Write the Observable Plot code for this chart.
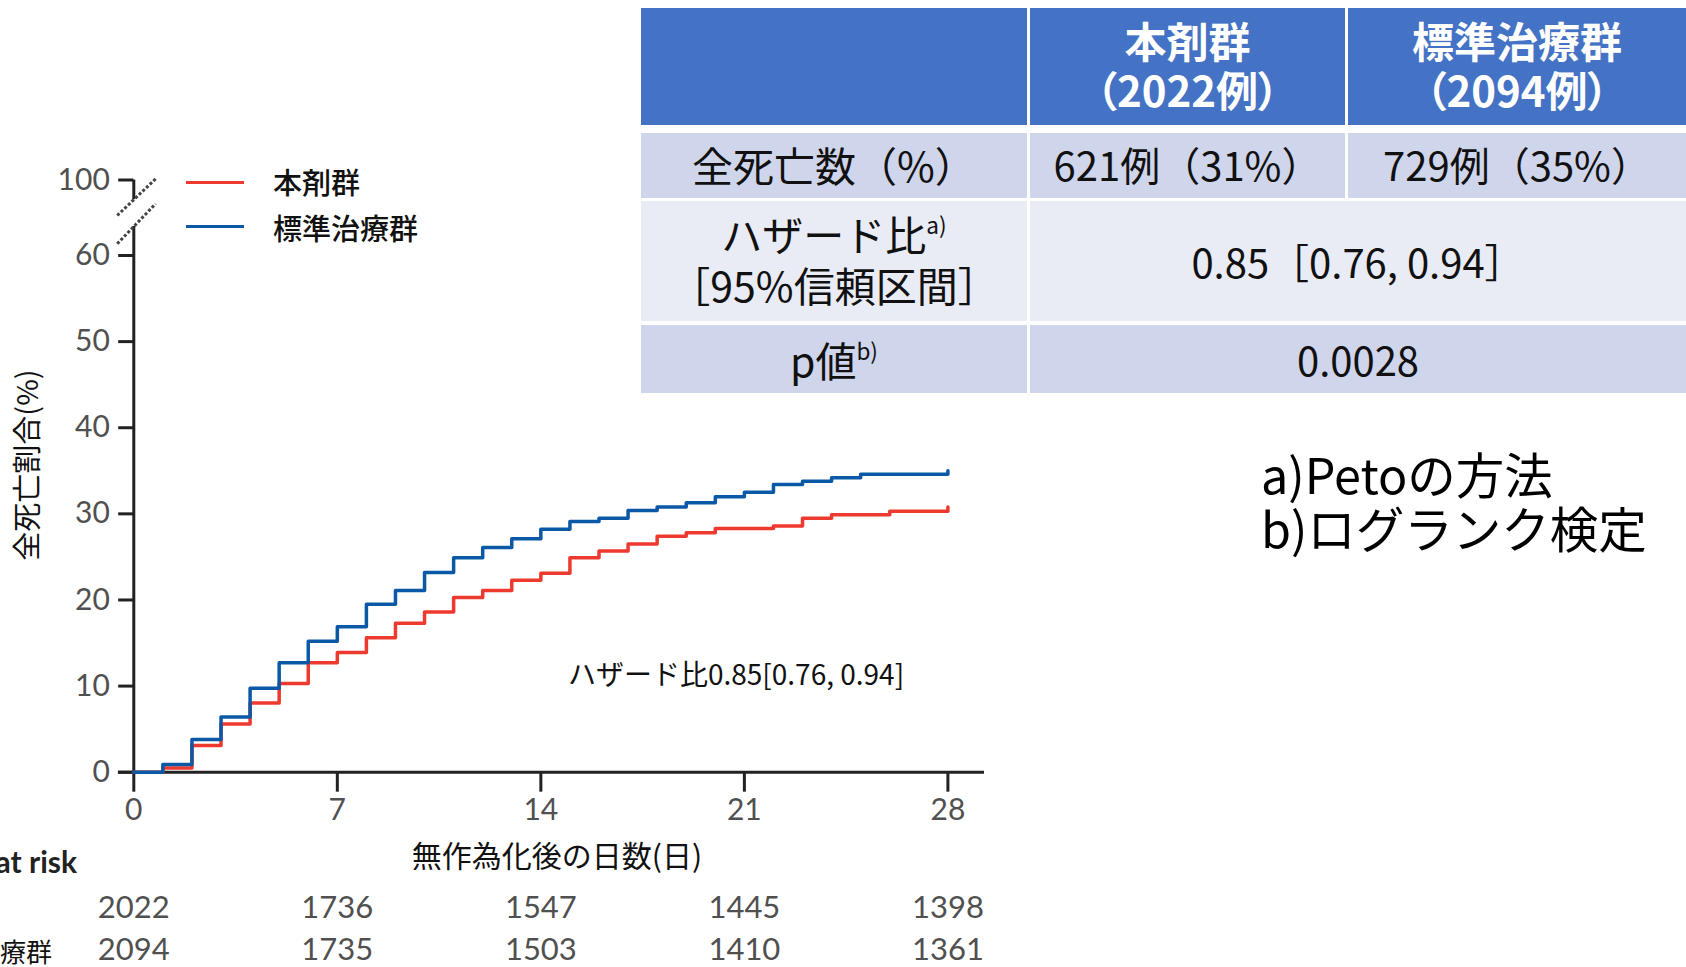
<!DOCTYPE html>
<html><head><meta charset="utf-8">
<script src="https://cdn.jsdelivr.net/npm/d3@7"></script>
<script src="https://cdn.jsdelivr.net/npm/@observablehq/plot@0.6"></script>
<style>
html,body{margin:0;padding:0;background:#fff;}
#wrap{position:relative;width:1686px;height:967px;overflow:hidden;background:#fff;font-family:"Noto Sans CJK JP",sans-serif;color:#111;}
#chart{position:absolute;left:0;top:0;width:1000px;height:967px;}
.abs{position:absolute;white-space:nowrap;}
.cell{position:absolute;display:flex;flex-direction:column;align-items:center;justify-content:center;text-align:center;white-space:nowrap;box-sizing:border-box;}
sup{font-size:0.55em;line-height:0;vertical-align:0;position:relative;top:-0.75em;}
</style></head><body>
<div id="wrap">
  <div id="chart"></div>
</div>
<script>
// ---- data ----
const seriesNames = ["本剤群", "標準治療群"];
const seriesColors = ["#ee3a2e", "#0b58a6"];
const days =     [0, 1,   2,   3,   4,    5,    6,    7,    8,    9,    10,   11,   12,   13,   14,   15,   16,   17,   18,   19,   20,   21,   22,   23,   24,   25,   26,   27,   28];
const drugPct =  [0, 0.5, 3.1, 5.6, 8.05, 10.3, 12.7, 13.9, 15.6, 17.3, 18.6, 20.3, 21.1, 22.3, 23.1, 24.9, 25.7, 26.5, 27.4, 27.8, 28.3, 28.3, 28.6, 29.5, 29.9, 29.9, 30.3, 30.3, 30.8];
const stdPct =   [0, 0.9, 3.8, 6.4, 9.75, 12.7, 15.2, 16.9, 19.5, 21.1, 23.2, 24.9, 26.1, 27.1, 28.2, 29.1, 29.5, 30.4, 30.8, 31.3, 32.0, 32.5, 33.4, 33.8, 34.2, 34.6, 34.6, 34.6, 35.0];
const xTicks = [0, 7, 14, 21, 28];
const yTicks = [0, 10, 20, 30, 40, 50, 60, 100];
const atRiskDrug = [2022, 1736, 1547, 1445, 1398];
const atRiskStd  = [2094, 1735, 1503, 1410, 1361];
const atRiskTitle = "No. at risk";
const xTitle = "無作為化後の日数(日)";
const yTitle = "全死亡割合(%)";
const hrNote = "ハザード比0.85[0.76, 0.94]";
const tableHeader = [[""], ["本剤群", "（2022例）"], ["標準治療群", "（2094例）"]];
const tableDeaths = [["全死亡数（%）"], ["621例（31%）"], ["729例（35%）"]];
const tableHR = [["ハザード比<sup>a)</sup>", "［95%信頼区間］"], ["0.85［0.76, 0.94］"]];
const tableP = [["p値<sup>b)</sup>"], ["0.0028"]];
const footnotes = ["a)Petoの方法", "b)ログランク検定"];

// ---- build table rows for Plot ----
const rows = [];
days.forEach((d, i) => rows.push({day: d, pct: drugPct[i], group: seriesNames[0]}));
days.forEach((d, i) => rows.push({day: d, pct: stdPct[i], group: seriesNames[1]}));

// axis break decorations (in data units)
const breakMarks = [
  {x1: -0.57, y1: 81.2, x2: 0.75, y2: 100.6},
  {x1: -0.57, y1: 66.2, x2: 0.75, y2: 87.4}
];
const axisColor = "#222";
const tickText = "#505050";
const numFont = "Lato, 'Open Sans', sans-serif";
const yTickLen = -0.52;   // 15px in day units
const xTickLen = -2.32;   // 20px in % units

const chart = Plot.plot({
  width: 1000,
  height: 967,
  marginLeft: 133.3,
  marginRight: 52.6,
  marginTop: 179.5,
  marginBottom: 195.3,
  x: {type: "linear", domain: [0, 28], range: [133.3, 947.4], axis: null},
  y: {type: "linear", domain: [0, 60, 100], range: [771.7, 255, 179.5], axis: null},
  color: {domain: seriesNames, range: seriesColors},
  style: {background: "transparent", fontFamily: numFont, overflow: "visible"},
  marks: [
    Plot.ruleY([0], {x1: -0.53, x2: 29.26, stroke: axisColor, strokeWidth: 3}),
    Plot.ruleX([0], {y1: 0, y2: 75.3, stroke: axisColor, strokeWidth: 3}),
    Plot.ruleX([0], {y1: 89.6, y2: 100, stroke: axisColor, strokeWidth: 3}),
    Plot.link(breakMarks, {x1: "x1", y1: "y1", x2: "x2", y2: "y2", stroke: "#444", strokeWidth: 3, strokeDasharray: "3,2"}),
    // y ticks + labels
    Plot.ruleY(yTicks, {x1: yTickLen, x2: 0, stroke: axisColor, strokeWidth: 3}),
    Plot.text(yTicks, {x: 0, y: d => d, dx: -24, textAnchor: "end", text: d => String(d), fill: tickText, fontSize: 30, fontFamily: numFont}),
    // x ticks + labels
    Plot.ruleX(xTicks, {y1: xTickLen, y2: 0, stroke: axisColor, strokeWidth: 3}),
    Plot.text(xTicks, {x: d => d, y: 0, dy: 38, text: d => String(d), fill: tickText, fontSize: 30, fontFamily: numFont}),
    // curves
    Plot.line(rows, {x: "day", y: "pct", stroke: "group", z: "group", curve: "step-after", strokeWidth: 3.5}),
    // numbers at risk
    Plot.text(atRiskDrug, {x: (d, i) => xTicks[i], y: 0, dy: 136, text: d => String(d), fill: tickText, fontSize: 31, fontFamily: numFont}),
    Plot.text(atRiskStd, {x: (d, i) => xTicks[i], y: 0, dy: 178, text: d => String(d), fill: tickText, fontSize: 31, fontFamily: numFont})
  ]
});
document.getElementById("chart").appendChild(chart);

const wrap = document.getElementById("wrap");
function addDiv(html, css, cls) {
  const el = document.createElement("div");
  el.className = cls || "abs";
  el.innerHTML = html;
  el.style.cssText = css;
  wrap.appendChild(el);
  return el;
}

// legend
addDiv("", `left:186px;top:181px;width:58px;height:3px;background:${seriesColors[0]};`);
addDiv("", `left:186px;top:225px;width:58px;height:3px;background:${seriesColors[1]};`);
addDiv(seriesNames[0], "left:273px;top:165px;font-size:29px;line-height:32px;font-weight:500;");
addDiv(seriesNames[1], "left:273px;top:211px;font-size:29px;line-height:32px;font-weight:500;");

// axis titles
addDiv(yTitle, "left:25px;top:465px;font-size:29px;line-height:32px;transform:translate(-50%,-50%) rotate(-90deg);");
addDiv(xTitle, "left:557px;top:854px;font-size:30px;line-height:34px;transform:translate(-50%,-50%);");

// hazard note
addDiv(hrNote, "left:736px;top:673px;font-size:28px;line-height:32px;transform:translate(-50%,-50%);");

// at risk labels
addDiv(atRiskTitle, `left:77px;top:861px;font-size:30px;line-height:34px;font-weight:bold;font-family:${numFont};color:#222;transform:translate(-100%,-50%);`);
addDiv(seriesNames[0], "left:-78px;top:909px;font-size:26px;line-height:30px;transform:translateY(-50%);");
addDiv(seriesNames[1], "left:-78px;top:951px;font-size:26px;line-height:30px;transform:translateY(-50%);");

// table
const colX = [641, 1030, 1348, 1686];
const rowY = [[8, 125], [133, 198], [201, 321], [325, 393]];
const headBg = "#4472c4", oddBg = "#cfd5ea", evenBg = "#e9ebf5";
function cell(lines, c0, c1, r, bg, css, lh, shift) {
  const [y0, y1] = rowY[r];
  const x0 = colX[c0], x1 = (c1 === 3 ? colX[3] : colX[c1] - 3);
  const inner = lines.map(t => `<div style="height:${lh}px;line-height:${lh}px;">${t}</div>`).join("");
  addDiv(`<div style="position:relative;top:${shift || 0}px;">${inner}</div>`,
    `left:${x0}px;top:${y0}px;width:${x1 - x0}px;height:${y1 - y0}px;background:${bg};${css}`, "cell");
}
const headCss = "color:#fff;font-weight:bold;font-size:42px;font-feature-settings:'palt';";
const labCss = "color:#111;font-size:41px;";
const valCss = "color:#111;font-size:40px;";
cell(tableHeader[0], 0, 1, 0, headBg, headCss, 49, -3);
cell(tableHeader[1], 1, 2, 0, headBg, headCss, 49, -3);
cell(tableHeader[2], 2, 3, 0, headBg, headCss, 49, -3);
cell(tableDeaths[0], 0, 1, 1, oddBg, labCss, 56, -2);
cell(tableDeaths[1], 1, 2, 1, oddBg, valCss, 56, -2);
cell(tableDeaths[2], 2, 3, 1, oddBg, valCss, 56, -2);
cell(tableHR[0], 0, 1, 2, evenBg, labCss, 51, -2);
cell(tableHR[1], 1, 3, 2, evenBg, valCss, 56, 0);
cell(tableP[0], 0, 1, 3, oddBg, labCss, 56, 0);
cell(tableP[1], 1, 3, 3, oddBg, valCss, 56, 0);

// footnotes
footnotes.forEach((t, i) => addDiv(t, `left:1261px;top:${446 + i * 54}px;height:54px;font-size:48.5px;line-height:54px;color:#000;`));
</script>
</body></html>
